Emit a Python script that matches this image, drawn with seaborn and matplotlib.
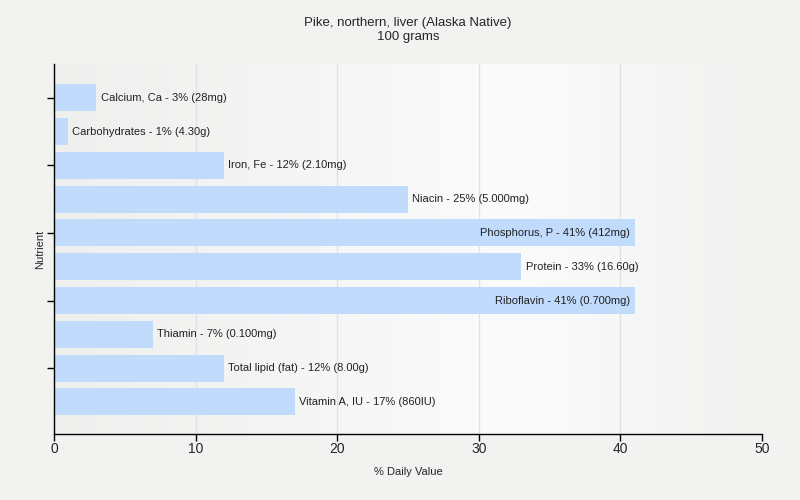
import numpy as np
import pandas as pd
import matplotlib
matplotlib.use('Agg')
import matplotlib.pyplot as plt
import seaborn as sns
from matplotlib.colors import LinearSegmentedColormap

# data
nutrients = ['Calcium, Ca', 'Carbohydrates', 'Iron, Fe', 'Niacin', 'Phosphorus, P',
             'Protein', 'Riboflavin', 'Thiamin', 'Total lipid (fat)', 'Vitamin A, IU']
daily_pct = [3, 1, 12, 25, 41, 33, 41, 7, 12, 17]
amounts = ['28mg', '4.30g', '2.10mg', '5.000mg', '412mg',
           '16.60g', '0.700mg', '0.100mg', '8.00g', '860IU']

df = pd.DataFrame({'Nutrient': nutrients, 'Value': daily_pct, 'Amount': amounts})

sns.set_style('white')
plt.rcParams['font.family'] = ['Liberation Sans', 'DejaVu Sans']

fig = plt.figure(figsize=(8, 5), dpi=100, facecolor='#f2f2f1')
ax = fig.add_axes([0.0675, 0.132, 0.885, 0.74])

# background gradient of the plot area
cmap = LinearSegmentedColormap.from_list('bg', [(0, '#efefee'), (0.65, '#fbfbfb'), (1, '#f2f2f1')])
grad = np.linspace(0, 1, 256).reshape(1, -1)
ax.imshow(grad, aspect='auto', cmap=cmap, extent=[0, 1, 0, 1],
          transform=ax.transAxes, zorder=0)

sns.barplot(data=df, x='Value', y='Nutrient', color='#c0dbfc', saturation=1,
            width=0.8, linewidth=0, ax=ax, zorder=2)

for i, row in df.iterrows():
    label = f"{row['Nutrient']} - {row['Value']}% ({row['Amount']})"
    if row['Value'] > 38:
        ax.text(row['Value'] - 0.3, i, label, va='center', ha='right', fontsize=8,
                color='#222222', zorder=3)
    else:
        ax.text(row['Value'] + 0.3, i, label, va='center', ha='left', fontsize=8,
                color='#222222', zorder=3)

ax.set_xlim(0, 50)
ax.set_ylim(9.95, -1)
ax.set_xticks([0, 10, 20, 30, 40, 50])
ax.set_yticks([0, 2, 4, 6, 8])
ax.set_yticklabels([])
ax.grid(axis='x', color='#e2e2e2', linewidth=1, zorder=1)
ax.set_axisbelow(True)

for s in ['top', 'right']:
    ax.spines[s].set_visible(False)
for s in ['left', 'bottom']:
    ax.spines[s].set_color('black')
    ax.spines[s].set_linewidth(1)
ax.tick_params(axis='both', which='both', length=5, width=1, color='black',
               left=True, bottom=True)
ax.tick_params(axis='x', labelsize=10, pad=1)

ax.set_xlabel('% Daily Value', fontsize=8, labelpad=8)
ax.set_ylabel('Nutrient', fontsize=8, labelpad=-2)
ax.set_title('Pike, northern, liver (Alaska Native)\n100 grams', fontsize=9.5, pad=17,
             linespacing=1.3)

fig.savefig('out.png', dpi=100, facecolor=fig.get_facecolor())
